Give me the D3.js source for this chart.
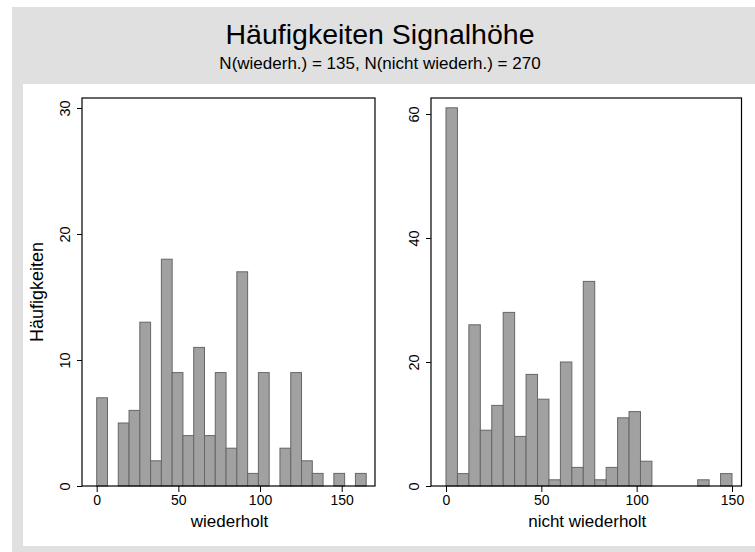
<!DOCTYPE html>
<html lang="de">
<head>
  <meta charset="UTF-8">
  <title>Häufigkeiten Signalhöhe</title>
  <style>
    body { margin: 0; background: #fff; }
    svg { display: block; font-family: "Liberation Sans", Arial, sans-serif; }
    .frame { fill: none; stroke: #000; stroke-width: 1.2; }
    .bar { fill: #a1a1a1; stroke: #666; stroke-width: 1; }
    .axis path, .axis line { stroke: #000; }
    .axis text { fill: #000; font-size: 14px; }
  </style>
</head>
<body>
  <svg id="chart" width="755" height="552"></svg>

  <script src="https://d3js.org/d3.v7.min.js"></script>
  <script>
    // histogram counts, 25 bins each
    const countsRep = [7, 0, 5, 6, 13, 2, 18, 9, 4, 11, 4, 9, 3, 17, 1, 9, 0, 3, 9, 2, 1, 0, 1, 0, 1];
    const countsNonRep = [61, 2, 26, 9, 13, 28, 8, 18, 14, 1, 20, 3, 33, 1, 3, 11, 12, 4, 0, 0, 0, 0, 1, 0, 2];

    // bin layout: start and width of the bins
    const binsRep = { start: 0, width: 6.6 };
    const binsNonRep = { start: 0, width: 6 };

    const xTicks = [0, 50, 100, 150];
    const yTicksRep = [0, 10, 20, 30];
    const yTicksNonRep = [0, 20, 40, 60];

    const titleText = "Häufigkeiten Signalhöhe";
    const subtitleText = "N(wiederh.) = 135, N(nicht wiederh.) = 270";
    const yTitle = "Häufigkeiten";

    const svg = d3.select("#chart");

    // background
    svg.append("rect").attr("x", 12).attr("y", 7).attr("width", 743).attr("height", 545).attr("fill", "#e0e0e0");
    svg.append("rect").attr("x", 23).attr("y", 84).attr("width", 732).attr("height", 462).attr("fill", "#fff");

    svg.append("text")
      .attr("x", 380).attr("y", 44)
      .attr("text-anchor", "middle")
      .style("font-size", "28.5px")
      .text(titleText);

    svg.append("text")
      .attr("x", 380).attr("y", 69)
      .attr("text-anchor", "middle")
      .style("font-size", "17px")
      .text(subtitleText);

    function drawPanel(p) {
      const x = d3.scaleLinear().domain([0, 150]).range(p.xRange);
      const y = d3.scaleLinear().domain(p.yDomain).range([486, p.yTop]);

      const g = svg.append("g");

      const bins = p.counts.map((c, i) => ({
        x0: p.bins.start + i * p.bins.width,
        x1: p.bins.start + (i + 1) * p.bins.width,
        n: c
      })).filter(d => d.n > 0);

      g.selectAll(".bar")
        .data(bins)
        .enter().append("rect")
        .attr("class", "bar")
        .attr("x", d => x(d.x0))
        .attr("y", d => y(d.n))
        .attr("width", d => x(d.x1) - x(d.x0))
        .attr("height", d => y(0) - y(d.n));

      // plot frame
      g.append("rect")
        .attr("class", "frame")
        .attr("x", p.left).attr("y", 98)
        .attr("width", p.right - p.left).attr("height", 486 - 98);

      // x axis
      const xa = g.append("g")
        .attr("class", "axis")
        .attr("transform", "translate(0,486)")
        .call(d3.axisBottom(x).tickValues(xTicks).tickSize(6).tickPadding(3).tickSizeOuter(0));
      xa.select(".domain").remove();

      // y axis, labels turned like Stata
      const ya = g.append("g")
        .attr("class", "axis")
        .attr("transform", `translate(${p.left},0)`)
        .call(d3.axisLeft(y).tickValues(p.yTicks).tickSize(5).tickSizeOuter(0));
      ya.select(".domain").remove();
      ya.selectAll(".tick text")
        .attr("x", null).attr("dy", "0.35em")
        .attr("text-anchor", "middle")
        .attr("transform", "translate(-17,0) rotate(-90)")
        .attr("y", 0)
        .style("font-size", "14.5px");

      g.append("text")
        .attr("x", (p.left + p.right) / 2 + 1)
        .attr("y", 527)
        .attr("text-anchor", "middle")
        .style("font-size", "17px")
        .text(p.xTitle);
    }

    drawPanel({
      counts: countsRep, bins: binsRep,
      xRange: [96.7, 341.7], yDomain: [0, 30], yTop: 108, yTicks: yTicksRep,
      left: 82, right: 375, xTitle: "wiederholt"
    });

    drawPanel({
      counts: countsNonRep, bins: binsNonRep,
      xRange: [446, 732], yDomain: [0, 60], yTop: 114, yTicks: yTicksNonRep,
      left: 431, right: 741.5, xTitle: "nicht wiederholt"
    });

    svg.append("text")
      .attr("transform", "translate(43,292) rotate(-90)")
      .attr("text-anchor", "middle")
      .style("font-size", "18px")
      .text(yTitle);
  </script>
</body>
</html>
